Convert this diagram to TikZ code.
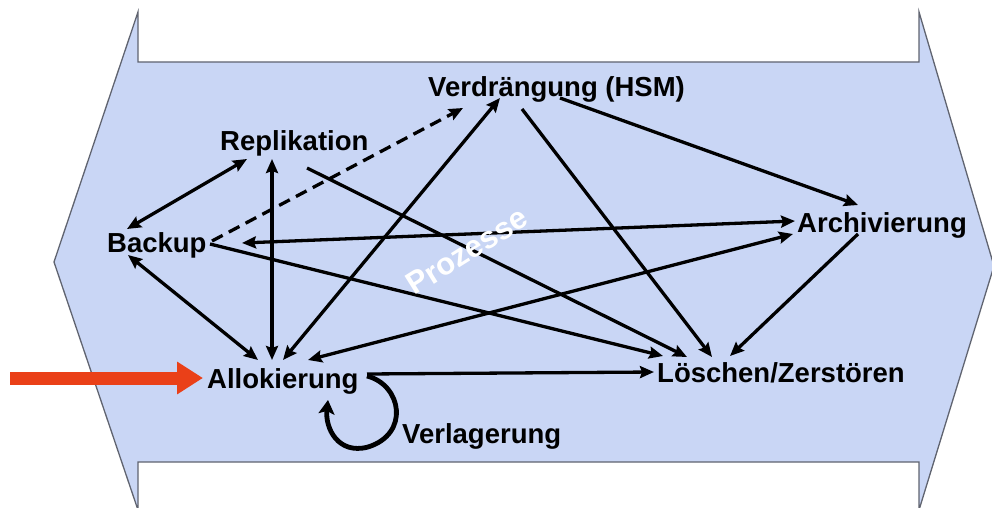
\documentclass[tikz,border=0pt]{standalone}
\usepackage{fontspec}
\setmainfont{Liberation Sans}
\usetikzlibrary{arrows.meta,calc}
\definecolor{bgfill}{RGB}{201,214,245}
\definecolor{bgline}{RGB}{96,100,112}
\definecolor{redarr}{RGB}{234,64,24}
\begin{document}
\begin{tikzpicture}[x=1pt,y=-1pt,
  lbl/.style={font=\fontsize{27.5}{30}\selectfont\bfseries, inner sep=0pt, anchor=base west},
  conn/.style={line width=3.3pt, -{Stealth[length=14pt,width=12pt,inset=2pt]}},
  dconn/.style={line width=3.3pt, {Stealth[length=14pt,width=12pt,inset=2pt]}-{Stealth[length=14pt,width=12pt,inset=2pt]}},
  dashconn/.style={conn, dash pattern=on 12pt off 7pt}]
\useasboundingbox (0,0) rectangle (992,508);
\begin{scope}
\clip (0,0) rectangle (992,508);
\draw[fill=bgfill, draw=bgline, line width=1.3pt, line join=miter]
  (138,12) -- (138,62) -- (919,62) -- (919,12) -- (994,266) -- (919,510)
  -- (919,462) -- (138,462) -- (138,510) -- (54,262) -- cycle;
\end{scope}

\node[lbl] (verd) at (428,96) {Verdrängung (HSM)};
\node[lbl] (rep)  at (220,150) {Replikation};
\node[lbl] (back) at (107,252) {Backup};
\node[lbl] (arch) at (797,232) {Archivierung};
\node[lbl] (allo) at (207,388) {Allokierung};
\node[lbl] (loe)  at (657,382) {Löschen/Zerstören};
\node[lbl] (verl) at (402,443) {Verlagerung};

% connectors
\draw[dconn] ([shift={(20,-23)}]back.base west) -- ([shift={(27,9)}]rep.base west);
\draw[dashconn] ([shift={(105,-11)}]back.base west) -- ([shift={(35,12)}]verd.base west);
\draw[dconn] ([shift={(76,-28)}]allo.base west) -- ([shift={(72,2)}]verd.base west);
\draw[dconn] ([shift={(52,9)}]rep.base west) -- ([shift={(65,-28)}]allo.base west);
\draw[dconn] ([shift={(21,3)}]back.base west) -- ([shift={(51,-28)}]allo.base west);
\draw[conn] ([shift={(87,18)}]rep.base west) -- ([shift={(30,-25)}]loe.base west);
\draw[conn] ([shift={(103,-8)}]back.base west) -- ([shift={(6,-26)}]loe.base west);
\draw[conn] ([shift={(94,13)}]verd.base west) -- ([shift={(55,-25)}]loe.base west);
\draw[conn] ([shift={(61,2)}]arch.base west) -- ([shift={(73,-26)}]loe.base west);
\draw[conn] ([shift={(160,-14)}]allo.base west) -- ([shift={(-3,-10)}]loe.base west);
\draw[conn] ([shift={(132,2)}]verd.base west) -- ([shift={(61,-27)}]arch.base west);
\draw[dconn] ([shift={(135,-9)}]back.base west) -- ([shift={(-2,-11)}]arch.base west);
\draw[dconn] ([shift={(101,-28)}]allo.base west) -- ([shift={(-4,2)}]arch.base west);

% loop (Verlagerung)
\begin{scope}[shift={(allo.base west)}]
\draw[line width=4.8pt, -{Stealth[length=14pt,width=16pt,inset=3pt]}]
  (160,-12) .. controls (195,-3) and (203,46) .. (161,59)
  .. controls (131,67) and (118,40) .. (121,12);
\end{scope}

% red input arrow
\coordinate (redstart) at (10,378);
\draw[redarr, line width=13pt, -{Triangle[length=26pt,width=31pt]}]
  (redstart) -- ([shift={(-4,-10)}]allo.base west);

\node[font=\fontsize{31}{33}\selectfont\bfseries, text=white, rotate=32, inner sep=0pt] (proz) at (467,251) {Prozesse};
\end{tikzpicture}
\end{document}
